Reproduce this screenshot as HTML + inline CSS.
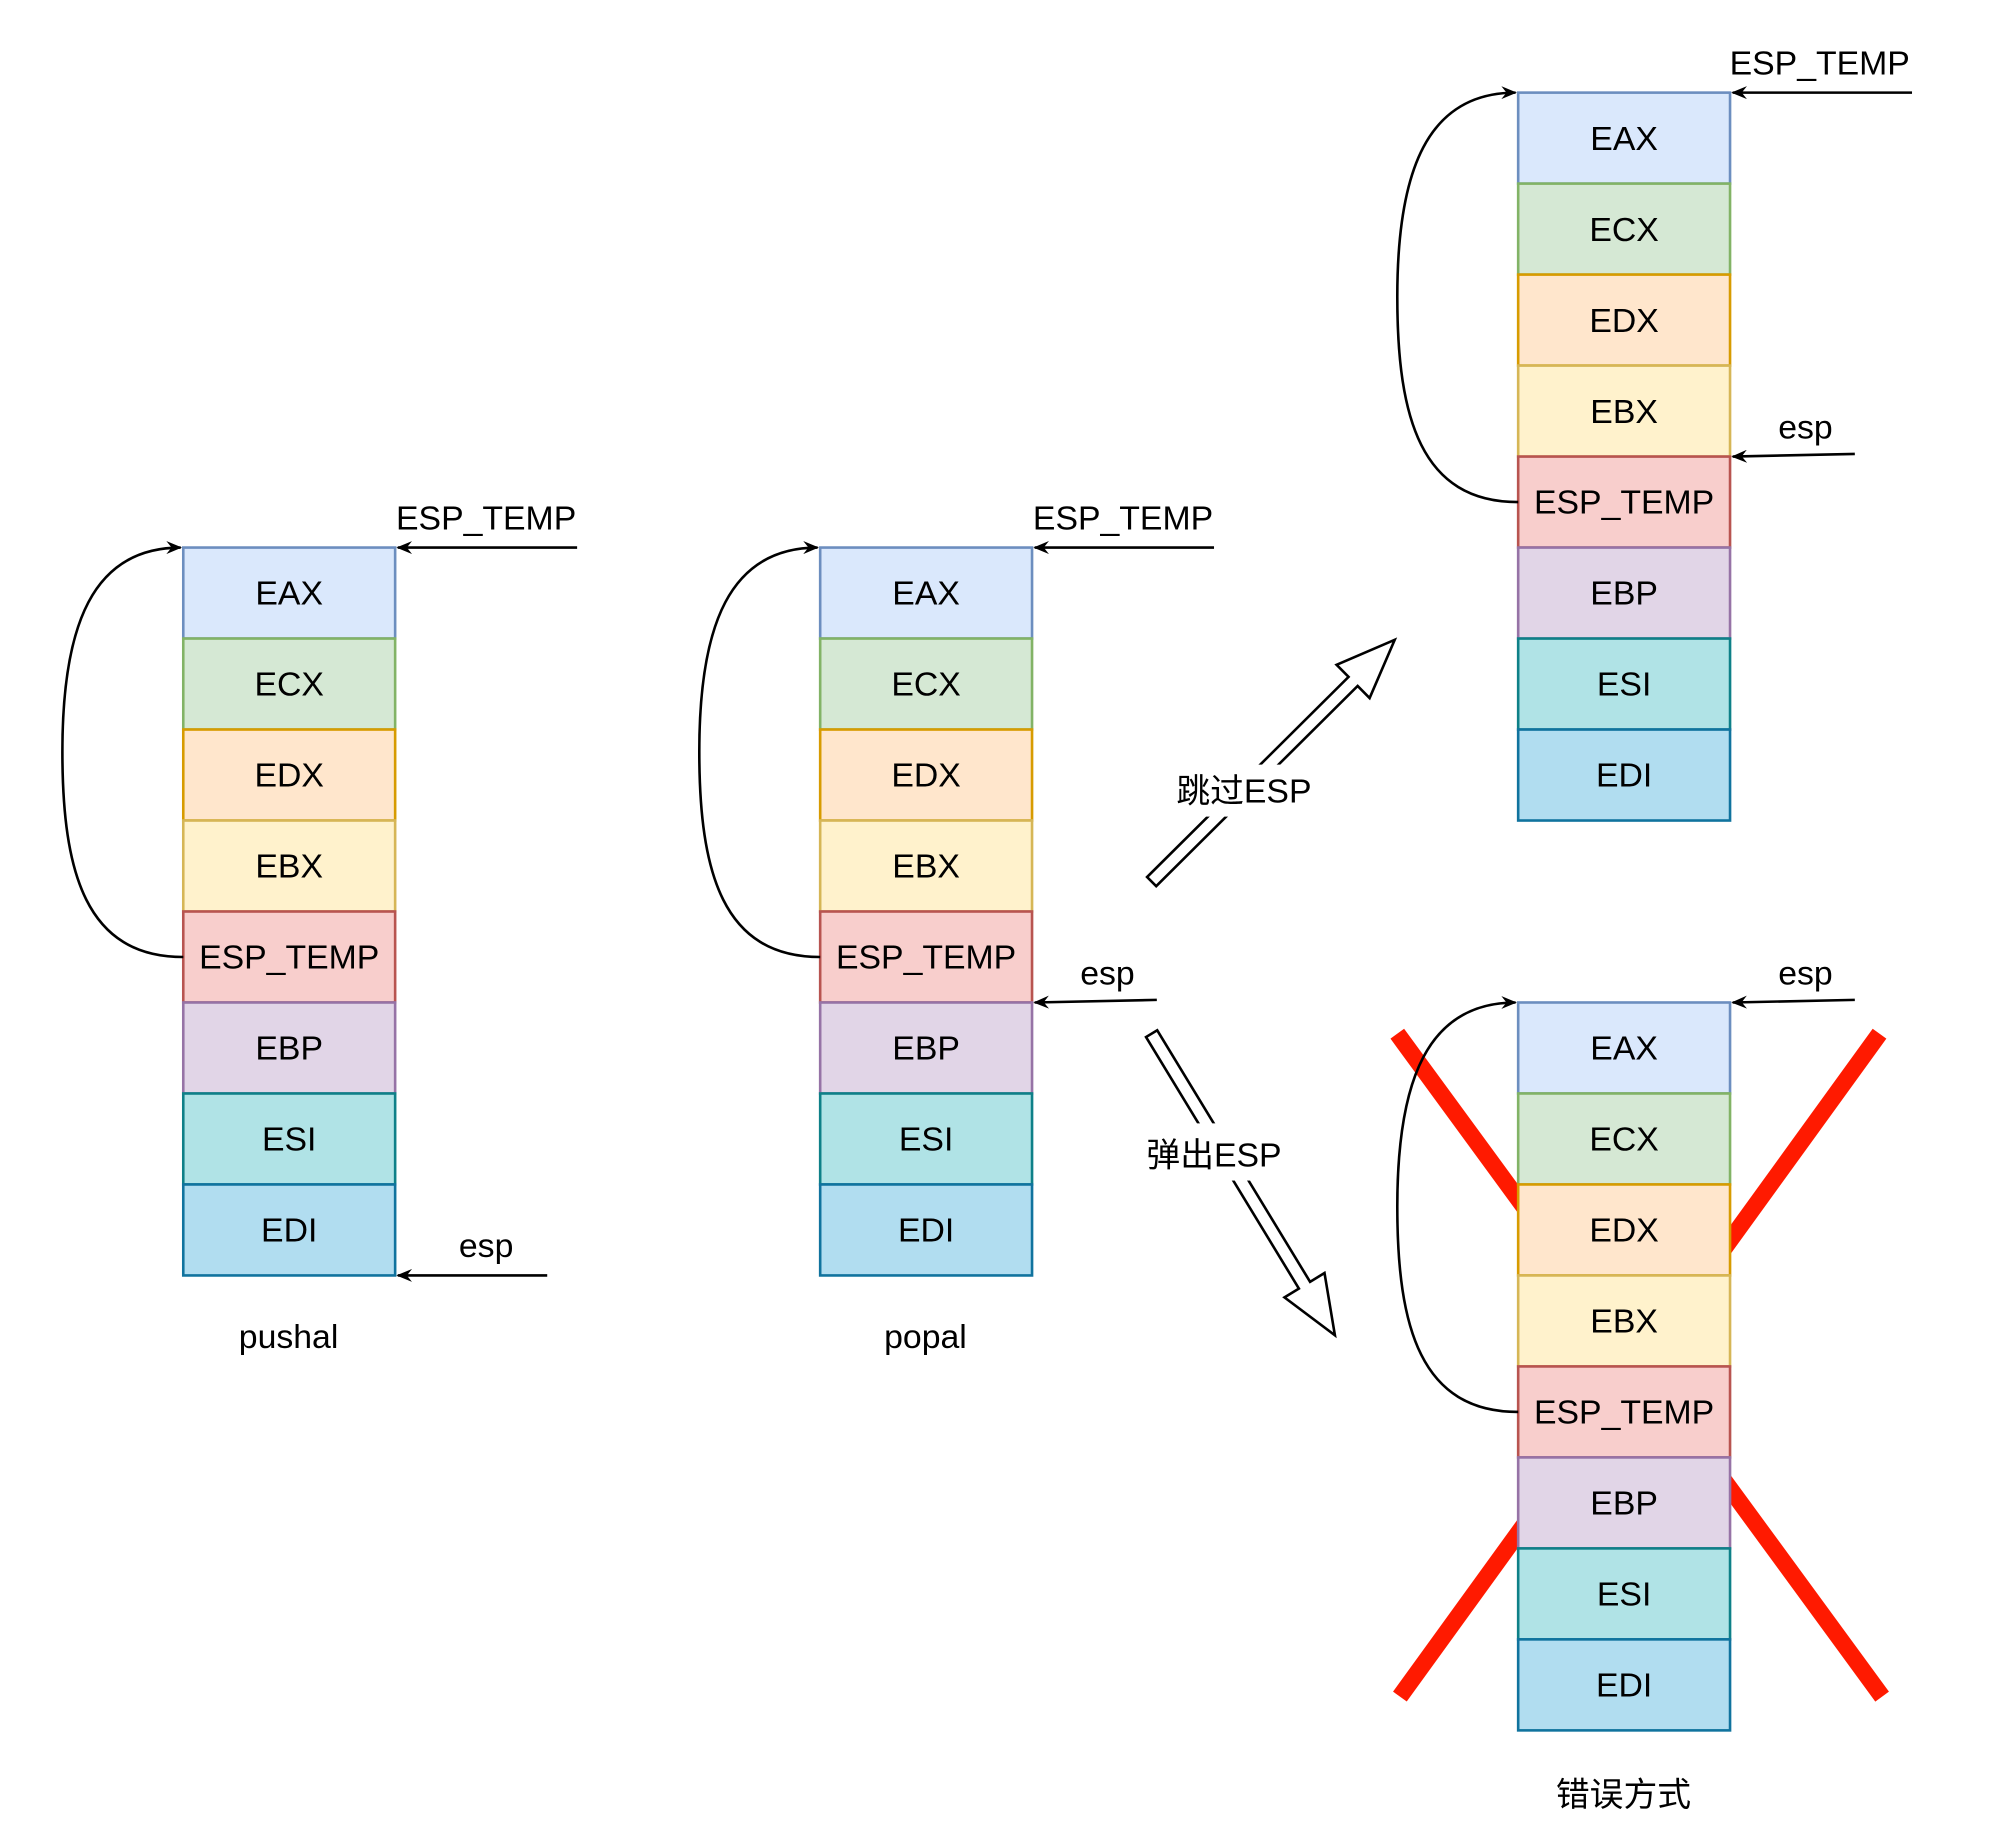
<!DOCTYPE html>
<html><head><meta charset="utf-8"><style>html,body{margin:0;padding:0;background:#fff}svg{display:block}</style></head><body>
<svg width="2016" height="1836" viewBox="0 0 1551 1412" xmlns="http://www.w3.org/2000/svg" font-family="Liberation Sans, Noto Sans CJK SC, sans-serif" font-size="26">
<defs>
<marker id="ah" markerWidth="12" markerHeight="10" refX="11" refY="5" orient="auto" markerUnits="userSpaceOnUse">
<path d="M0,0 L12,5 L0,10 L4,5 Z" fill="#000"/></marker>
<g id="stack">
<rect x="0" y="0" width="163" height="70" fill="#dae8fc" stroke="#6c8ebf" stroke-width="2"/>
<rect x="0" y="70" width="163" height="70" fill="#d5e8d4" stroke="#82b366" stroke-width="2"/>
<rect x="0" y="140" width="163" height="70" fill="#ffe6cc" stroke="#d79b00" stroke-width="2"/>
<rect x="0" y="210" width="163" height="70" fill="#fff2cc" stroke="#d6b656" stroke-width="2"/>
<rect x="0" y="280" width="163" height="70" fill="#f8cecc" stroke="#b85450" stroke-width="2"/>
<rect x="0" y="350" width="163" height="70" fill="#e1d5e7" stroke="#9673a6" stroke-width="2"/>
<rect x="0" y="420" width="163" height="70" fill="#b0e3e6" stroke="#0e8088" stroke-width="2"/>
<rect x="0" y="490" width="163" height="70" fill="#b1ddf0" stroke="#10739e" stroke-width="2"/>
<g text-anchor="middle">
<text x="81.5" y="44">EAX</text><text x="81.5" y="114">ECX</text><text x="81.5" y="184">EDX</text><text x="81.5" y="254">EBX</text>
<text x="81.5" y="324">ESP_TEMP</text><text x="81.5" y="394">EBP</text><text x="81.5" y="464">ESI</text><text x="81.5" y="534">EDI</text>
</g>
<path d="M0,315 C-75,315 -93,250 -93,157 C-93,60 -70,0 -2,0" fill="none" stroke="#000" stroke-width="2" marker-end="url(#ah)"/>
</g>
</defs>
<!-- red X -->
<line x1="1075" y1="795" x2="1448" y2="1305" stroke="#ff1a00" stroke-width="13"/>
<line x1="1446" y1="795" x2="1077" y2="1305" stroke="#ff1a00" stroke-width="13"/>

<use href="#stack" x="141" y="421"/>
<use href="#stack" x="631" y="421"/>
<use href="#stack" x="1168" y="71"/>
<use href="#stack" x="1168" y="771"/>

<g stroke="#000" stroke-width="2" fill="none">
<line x1="444" y1="421" x2="306" y2="421" marker-end="url(#ah)"/>
<line x1="421" y1="981" x2="306" y2="981" marker-end="url(#ah)"/>
<line x1="934" y1="421" x2="796" y2="421" marker-end="url(#ah)"/>
<line x1="890" y1="769" x2="796" y2="771" marker-end="url(#ah)"/>
<line x1="1471" y1="71" x2="1333" y2="71" marker-end="url(#ah)"/>
<line x1="1427" y1="349" x2="1333" y2="351" marker-end="url(#ah)"/>
<line x1="1427" y1="769" x2="1333" y2="771" marker-end="url(#ah)"/>
</g>
<g text-anchor="middle">
<text x="374" y="407">ESP_TEMP</text>
<text x="374" y="967">esp</text>
<text x="864" y="407">ESP_TEMP</text>
<text x="852" y="757">esp</text>
<text x="1400" y="57">ESP_TEMP</text>
<text x="1389" y="337">esp</text>
<text x="1389" y="757">esp</text>
<text x="222" y="1037">pushal</text>
<text x="712" y="1037">popal</text>
<text x="1249" y="1389">错误方式</text>
</g>
<!-- block arrows -->
<polygon points="889.5,681.5 1044.5,527.5 1053.7,536.8 1073,492 1028.3,511.2 1037.5,520.5 882.5,674.5" fill="#fff" stroke="#000" stroke-width="2"/>
<rect x="895" y="588" width="125" height="40" fill="#fff"/>
<text x="957" y="617" text-anchor="middle">跳过ESP</text>
<polygon points="881.7,797.6 999.3,991.1 988.2,997.9 1027,1027 1019,979.1 1007.9,985.9 890.3,792.4" fill="#fff" stroke="#000" stroke-width="2"/>
<rect x="872" y="864" width="125" height="44" fill="#fff"/>
<text x="934" y="897" text-anchor="middle">弹出ESP</text>
</svg>
</body></html>
